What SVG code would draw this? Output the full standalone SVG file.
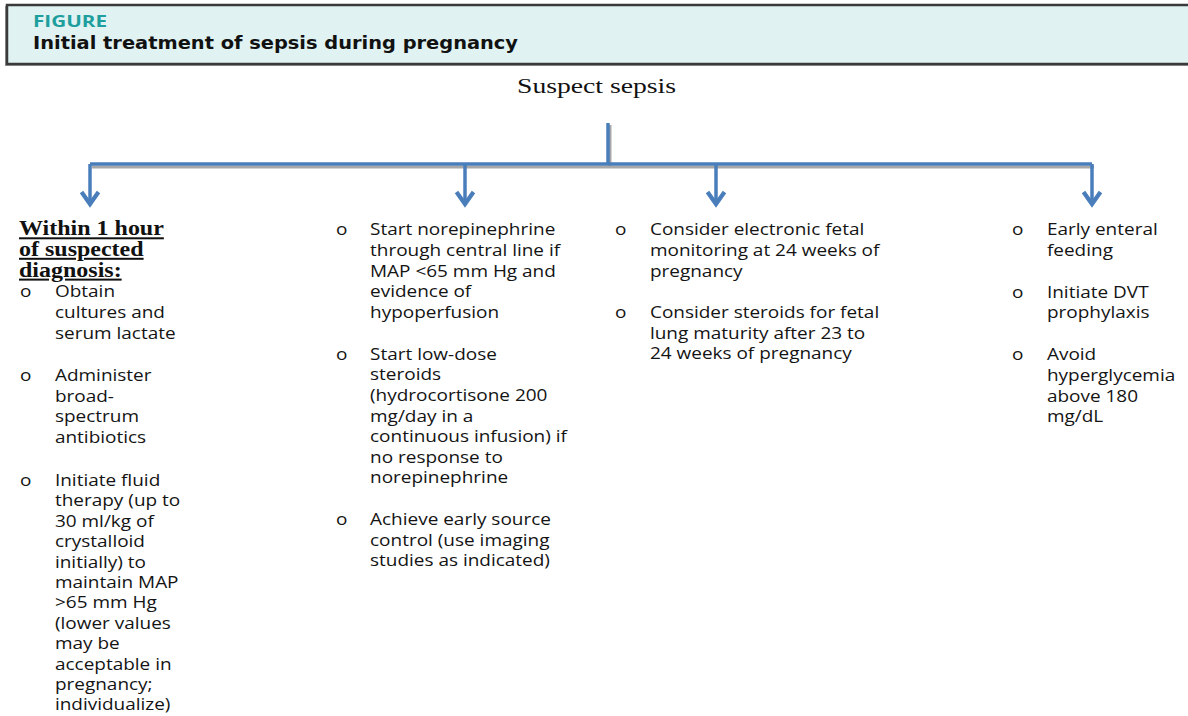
<svg xmlns="http://www.w3.org/2000/svg" width="1188" height="716" viewBox="0 0 1188 716">
<style>
.body{font-family:"Open Sans","Noto Sans",sans-serif;font-size:16.5px;fill:#141414}
.head{font-family:"Liberation Serif","Times New Roman",serif;font-size:20px;font-weight:bold;fill:#111;text-decoration:underline}
.conn{fill:none;stroke:#4a7ebb;stroke-width:3.5}
.shadow{fill:none;stroke:#a8a8a8;stroke-width:3}
</style>
<defs>
<marker id="chev" markerUnits="userSpaceOnUse" markerWidth="30" markerHeight="30" viewBox="-15 -15 30 30" refX="0" refY="0" orient="auto">
<path d="M-12,-8.5 L0,0 L-12,8.5" fill="none" stroke="#4a7ebb" stroke-width="4.2"/>
</marker>
</defs>
<rect width="1188" height="716" fill="#ffffff"/>
<g id="header">
<rect x="5" y="6" width="1200" height="60" fill="#9a9a9a"/>
<rect x="7" y="5" width="1200" height="59" fill="#e0f2f2" stroke="#3a3a3a" stroke-width="2.5"/>
<text x="33" y="27" font-family="Open Sans, sans-serif" font-weight="bold" font-size="16" fill="#1f9e9e" textLength="74" lengthAdjust="spacingAndGlyphs">FIGURE</text>
<text x="33" y="49" font-family="DejaVu Sans, sans-serif" font-weight="bold" font-size="17.5" fill="#111" textLength="485" lengthAdjust="spacingAndGlyphs">Initial treatment of sepsis during pregnancy</text>
</g>
<g id="root">
<text x="517" y="93" font-family="Liberation Serif, serif" font-size="20" fill="#111" textLength="159" lengthAdjust="spacingAndGlyphs">Suspect sepsis</text>
</g>
<g id="connectors">
<path class="shadow" d="M610,125 V167 M92,167 H1094"/>
<path class="conn" d="M608,123 V164"/>
<path class="conn" d="M90,164 H1092"/>
<path class="conn" d="M90,164 V204" marker-end="url(#chev)"/>
<path class="conn" d="M465,164 V204" marker-end="url(#chev)"/>
<path class="conn" d="M716,164 V204" marker-end="url(#chev)"/>
<path class="conn" d="M1092,164 V204" marker-end="url(#chev)"/>
</g>
<g id="col1">
<g transform="translate(19,0) scale(1.2,1)">
<text class="head" x="0" y="235.5">Within 1 hour</text>
<text class="head" x="0" y="256">of suspected</text>
<text class="head" x="0" y="276.8">diagnosis:</text>
</g>
<g class="body" transform="translate(20,0) scale(1.15,1)">
<text x="0" y="297.5">o</text>
<text x="30.4" y="297.5">Obtain</text>
<text x="30.4" y="318.1">cultures and</text>
<text x="30.4" y="338.8">serum lactate</text>
<text x="0" y="381">o</text>
<text x="30.4" y="381">Administer</text>
<text x="30.4" y="401.6">broad-</text>
<text x="30.4" y="422.2">spectrum</text>
<text x="30.4" y="442.8">antibiotics</text>
<text x="0" y="486">o</text>
<text x="30.4" y="486">Initiate fluid</text>
<text x="30.4" y="506.4">therapy (up to</text>
<text x="30.4" y="526.8">30 ml/kg of</text>
<text x="30.4" y="547.2">crystalloid</text>
<text x="30.4" y="567.6">initially) to</text>
<text x="30.4" y="588">maintain MAP</text>
<text x="30.4" y="608.4">&gt;65 mm Hg</text>
<text x="30.4" y="628.8">(lower values</text>
<text x="30.4" y="649.2">may be</text>
<text x="30.4" y="669.6">acceptable in</text>
<text x="30.4" y="690">pregnancy;</text>
<text x="30.4" y="710.4">individualize)</text>
</g>
</g>
<g id="col2">
<g class="body" transform="translate(336,0) scale(1.15,1)">
<text x="0" y="235.5">o</text>
<text x="29.6" y="235.5">Start norepinephrine</text>
<text x="29.6" y="256.1">through central line if</text>
<text x="29.6" y="276.8">MAP &lt;65 mm Hg and</text>
<text x="29.6" y="297.4">evidence of</text>
<text x="29.6" y="318">hypoperfusion</text>
<text x="0" y="359.7">o</text>
<text x="29.6" y="359.7">Start low-dose</text>
<text x="29.6" y="380.3">steroids</text>
<text x="29.6" y="401">(hydrocortisone 200</text>
<text x="29.6" y="421.6">mg/day in a</text>
<text x="29.6" y="442.2">continuous infusion) if</text>
<text x="29.6" y="462.8">no response to</text>
<text x="29.6" y="483.4">norepinephrine</text>
<text x="0" y="525">o</text>
<text x="29.6" y="525">Achieve early source</text>
<text x="29.6" y="545.6">control (use imaging</text>
<text x="29.6" y="566.2">studies as indicated)</text>
</g>
</g>
<g id="col3">
<g class="body" transform="translate(615,0) scale(1.15,1)">
<text x="0" y="235.5">o</text>
<text x="30.4" y="235.5">Consider electronic fetal</text>
<text x="30.4" y="256.1">monitoring at 24 weeks of</text>
<text x="30.4" y="276.8">pregnancy</text>
<text x="0" y="318">o</text>
<text x="30.4" y="318">Consider steroids for fetal</text>
<text x="30.4" y="338.6">lung maturity after 23 to</text>
<text x="30.4" y="359.2">24 weeks of pregnancy</text>
</g>
</g>
<g id="col4">
<g class="body" transform="translate(1012,0) scale(1.15,1)">
<text x="0" y="235.5">o</text>
<text x="30.4" y="235.5">Early enteral</text>
<text x="30.4" y="256.2">feeding</text>
<text x="0" y="297.8">o</text>
<text x="30.4" y="297.8">Initiate DVT</text>
<text x="30.4" y="318.5">prophylaxis</text>
<text x="0" y="360.5">o</text>
<text x="30.4" y="360.5">Avoid</text>
<text x="30.4" y="381.2">hyperglycemia</text>
<text x="30.4" y="401.8">above 180</text>
<text x="30.4" y="422.4">mg/dL</text>
</g>
</g>
</svg>
